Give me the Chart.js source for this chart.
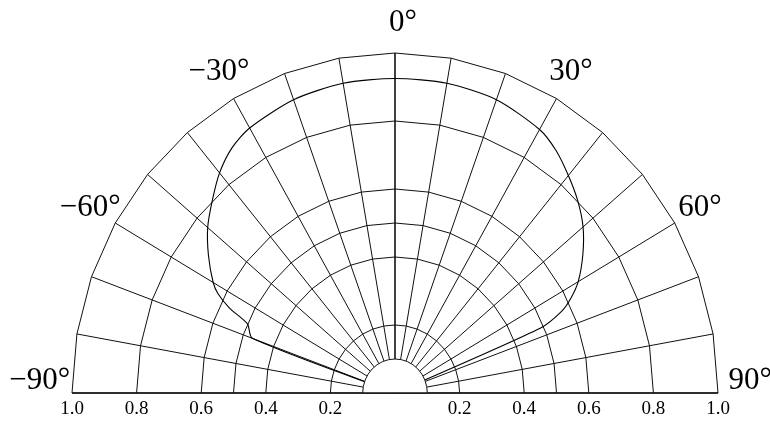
<!DOCTYPE html>
<html>
<head>
<meta charset="utf-8">
<script src="https://cdn.jsdelivr.net/npm/chart.js@4.4.0/dist/chart.umd.min.js"></script>
<style>
  html, body { margin: 0; padding: 0; background: #fff; }
  #wrap { width: 770px; height: 424px; }
</style>
</head>
<body>
<div id="wrap"><canvas id="patternChart" width="770" height="424"></canvas></div>
<script>
// radiation pattern: angle in degrees (0 = straight up), relative intensity
const patternAngles = [-75, -70, -66, -64, -62, -60, -55, -50, -45, -40, -35, -30, -20, -10, 0, 10, 20, 30, 35, 40, 45, 50, 55, 60, 63, 65, 67, 70];
const patternValues = [0, 0.47, 0.50, 0.57, 0.62, 0.65, 0.705, 0.757, 0.80, 0.845, 0.88, 0.90, 0.918, 0.925, 0.925, 0.925, 0.918, 0.895, 0.87, 0.835, 0.80, 0.76, 0.71, 0.655, 0.61, 0.57, 0.49, 0];

// grid
const ringValues = [0.2, 0.4, 0.5, 0.6, 0.8, 1.0];
const spokeAngles = [-90, -80, -70, -60, -50, -40, -30, -20, -10, 0, 10, 20, 30, 40, 50, 60, 70, 80, 90];
const innerRadius = 0.1;

// angle labels
const labelAngles = [-90, -60, -30, 0, 30, 60, 90];
const labelTexts = ['\u221290\u00b0', '\u221260\u00b0', '\u221230\u00b0', '0\u00b0', '30\u00b0', '60\u00b0', '90\u00b0'];

const toRad = d => d * Math.PI / 180;

function polarPoint(chart, deg, r) {
    const { x, y } = chart.scales;
    return [x.getPixelForValue(r * Math.sin(toRad(deg))), y.getPixelForValue(r * Math.cos(toRad(deg)))];
}

const polarGrid = {
    id: 'polarGrid',
    beforeDatasetsDraw(chart) {
        const ctx = chart.ctx;
        ctx.save();
        ctx.strokeStyle = '#111';
        ctx.lineWidth = 1;

        // rings, straight between spokes
        ringValues.forEach(r => {
            ctx.beginPath();
            spokeAngles.forEach((a, i) => {
                const [px, py] = polarPoint(chart, a, r);
                if (i === 0) ctx.moveTo(px, py); else ctx.lineTo(px, py);
            });
            ctx.stroke();
        });

        // spokes
        spokeAngles.forEach(a => {
            const [x0, y0] = polarPoint(chart, a, innerRadius);
            const [x1, y1] = polarPoint(chart, a, 1);
            ctx.lineWidth = a === 0 ? 1.6 : 1;
            ctx.beginPath();
            ctx.moveTo(x0, y0);
            ctx.lineTo(x1, y1);
            ctx.stroke();
        });

        // base line
        const [bx0, by0] = polarPoint(chart, -90, 1);
        const [bx1, by1] = polarPoint(chart, 90, 1);
        ctx.lineWidth = 1.4;
        ctx.beginPath();
        ctx.moveTo(bx0, by0);
        ctx.lineTo(bx1, by1);
        ctx.stroke();
        ctx.restore();
    },
    afterDatasetsDraw(chart) {
        const ctx = chart.ctx;
        const { x, y } = chart.scales;
        const cx = x.getPixelForValue(0);
        const cy = y.getPixelForValue(0);
        const rx = x.getPixelForValue(innerRadius) - cx;
        const ry = cy - y.getPixelForValue(innerRadius);

        ctx.save();
        // inner hole
        ctx.beginPath();
        ctx.ellipse(cx, cy, rx, ry, 0, Math.PI, 2 * Math.PI);
        ctx.closePath();
        ctx.fillStyle = '#fff';
        ctx.fill();
        ctx.beginPath();
        ctx.ellipse(cx, cy, rx, ry, 0, Math.PI, 2 * Math.PI);
        ctx.strokeStyle = '#111';
        ctx.lineWidth = 1;
        ctx.stroke();
        ctx.beginPath();
        ctx.moveTo(cx - rx, cy);
        ctx.lineTo(cx + rx, cy);
        ctx.lineWidth = 1.4;
        ctx.stroke();

        // angle labels
        ctx.fillStyle = '#000';
        ctx.font = '31px "Liberation Serif", "DejaVu Serif", serif';
        ctx.textAlign = 'center';
        labelAngles.forEach((a, i) => {
            const side = Math.abs(a) === 90;
            const [px, py] = polarPoint(chart, a, side ? 1.1 : 1.09);
            ctx.textBaseline = side ? 'bottom' : 'middle';
            ctx.fillText(labelTexts[i], a === 0 ? px + 8 : px, side ? py + 3 : py);
        });
        ctx.restore();
    }
};

const ctx = document.getElementById('patternChart').getContext('2d');
new Chart(ctx, {
    type: 'scatter',
    data: {
        datasets: [{
            label: 'pattern',
            data: patternAngles.map((a, i) => ({
                x: patternValues[i] * Math.sin(toRad(a)),
                y: patternValues[i] * Math.cos(toRad(a))
            })),
            showLine: true,
            borderColor: '#000',
            borderWidth: 1.1,
            pointRadius: 0,
            tension: 0.25,
            clip: false
        }]
    },
    options: {
        responsive: false,
        animation: false,
        layout: { padding: { left: 72, right: 52, top: 53, bottom: 4 } },
        plugins: { legend: { display: false }, tooltip: { enabled: false } },
        scales: {
            x: {
                type: 'linear',
                min: -1,
                max: 1,
                grid: { display: false, drawTicks: false, tickLength: 0 },
                border: { display: false },
                afterFit: scale => { scale.height = 27; },
                ticks: {
                    stepSize: 0.2,
                    autoSkip: false,
                    maxRotation: 0,
                    padding: 5,
                    color: '#000',
                    font: { family: '"Liberation Serif", "DejaVu Serif", serif', size: 19 },
                    callback: v => Math.abs(v) < 1e-6 ? '' : Math.abs(v).toFixed(1)
                }
            },
            y: { display: false, min: 0, max: 1 }
        }
    },
    plugins: [polarGrid]
});
</script>
</body>
</html>
